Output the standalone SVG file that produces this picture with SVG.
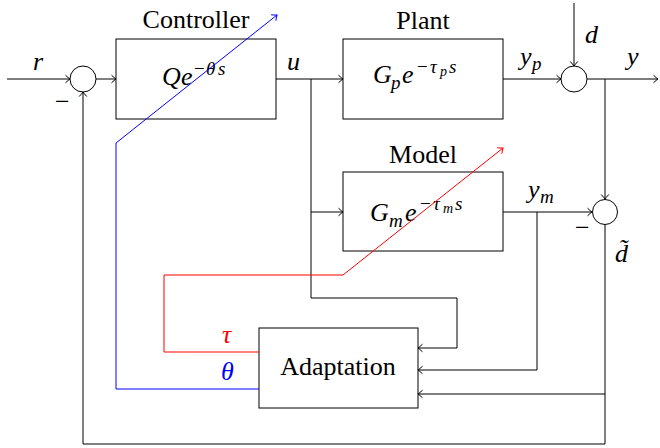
<svg xmlns="http://www.w3.org/2000/svg" width="660" height="448" viewBox="0 0 660 448">
<defs>
<style>
.box{fill:#fff;stroke:#000;stroke-width:1}
.sum{fill:#fff;stroke:#000;stroke-width:1}
.ln{fill:none;stroke:#000;stroke-width:1}
.blue{fill:none;stroke:#00f;stroke-width:1}
.red{fill:none;stroke:#f00;stroke-width:1}
.lbl{font-family:"Liberation Serif",serif;font-size:26px;fill:#000}
.m{font-family:"Liberation Serif",serif;font-style:italic;font-size:26px;fill:#000}
.s{font-size:19px}
.ss{font-size:14px}
.up{font-style:normal}
</style>
<marker id="ah" viewBox="-6 -5 8 10" refX="0" refY="0" markerWidth="8" markerHeight="10" markerUnits="userSpaceOnUse" orient="auto">
<path d="M-4.5,-3.8 Q-1.5,-1 0,0 Q-1.5,1 -4.5,3.8" fill="none" stroke="#000" stroke-width="1"/>
</marker>
<marker id="ahb" viewBox="-6 -5 8 10" refX="0" refY="0" markerWidth="8" markerHeight="10" markerUnits="userSpaceOnUse" orient="auto">
<path d="M-4.5,-3.8 Q-1.5,-1 0,0 Q-1.5,1 -4.5,3.8" fill="none" stroke="#00f" stroke-width="1"/>
</marker>
<marker id="ahr" viewBox="-6 -5 8 10" refX="0" refY="0" markerWidth="8" markerHeight="10" markerUnits="userSpaceOnUse" orient="auto">
<path d="M-4.5,-3.8 Q-1.5,-1 0,0 Q-1.5,1 -4.5,3.8" fill="none" stroke="#f00" stroke-width="1"/>
</marker>
</defs>
<rect width="660" height="448" fill="#fff"/>

<g id="connectors">
<path class="ln" d="M7,79 H70" marker-end="url(#ah)"/>
<path class="ln" d="M96,79 H116" marker-end="url(#ah)"/>
<path class="ln" d="M276,79 H343" marker-end="url(#ah)"/>
<path class="ln" d="M503,79 H561" marker-end="url(#ah)"/>
<path class="ln" d="M574,3 V66" marker-end="url(#ah)"/>
<path class="ln" d="M587,79 H658" marker-end="url(#ah)"/>
<path class="ln" d="M605,79 V199" marker-end="url(#ah)"/>
<path class="ln" d="M311,79 V212 H343" marker-end="url(#ah)"/>
<path class="ln" d="M503,212 H592" marker-end="url(#ah)"/>
<path class="ln" d="M311,212 V298 H457 V348 H418" marker-end="url(#ah)"/>
<path class="ln" d="M537,212 V370 H418" marker-end="url(#ah)"/>
<path class="ln" d="M605,224 V394 H418" marker-end="url(#ah)"/>
<path class="ln" d="M605,394 V444 H83 V92" marker-end="url(#ah)"/>
</g>

<g id="sum1"><circle class="sum" cx="83" cy="79" r="13"/></g>
<g id="sum2"><circle class="sum" cx="574" cy="79" r="13"/></g>
<g id="sum3"><circle class="sum" cx="605" cy="212" r="12.5"/></g>

<g id="controller">
<rect class="box" x="116" y="39" width="160" height="80"/>
<text class="lbl" x="196" y="28" text-anchor="middle">Controller</text>
<text class="m" y="85"><tspan x="162">Q</tspan><tspan x="181">e</tspan><tspan class="s up" x="194" y="75">−</tspan><tspan class="s" x="206">θ</tspan><tspan class="s" x="218">s</tspan></text>
</g>

<g id="plant">
<rect class="box" x="343" y="39" width="160" height="80"/>
<text class="lbl" x="423" y="29" text-anchor="middle">Plant</text>
<text class="m" y="83"><tspan x="373">G</tspan><tspan class="s" x="391" y="89">p</tspan><tspan x="402" y="83">e</tspan><tspan class="s up" x="417" y="73">−</tspan><tspan class="s" x="430">τ</tspan><tspan class="ss" x="440" y="76">p</tspan><tspan class="s" x="449" y="73">s</tspan></text>
</g>

<g id="model">
<rect class="box" x="343" y="172" width="160" height="79"/>
<text class="lbl" x="423" y="163" text-anchor="middle">Model</text>
<text class="m" y="221"><tspan x="370">G</tspan><tspan class="s" x="389" y="227">m</tspan><tspan x="405" y="221">e</tspan><tspan class="s up" x="420" y="210">−</tspan><tspan class="s" x="433">τ</tspan><tspan class="ss" x="443" y="213">m</tspan><tspan class="s" x="455" y="210">s</tspan></text>
</g>

<g id="adaptation">
<rect class="box" x="259" y="328" width="159" height="80"/>
<text class="lbl" x="338" y="375" text-anchor="middle">Adaptation</text>
</g>

<g id="adaptive-lines">
<path class="blue" d="M259,389 H116 V143 L277,15" marker-end="url(#ahb)"/>
<path class="red" d="M259,352 H164 V275 H343 L503,148" marker-end="url(#ahr)"/>
<text class="m" x="222" y="343" style="fill:#f00">τ</text>
<text class="m" x="221" y="380" style="fill:#00f">θ</text>
</g>

<g id="labels">
<text class="m" x="33" y="70">r</text>
<text class="m" x="287" y="70">u</text>
<text class="m" y="65"><tspan x="520">y</tspan><tspan class="s" x="532" y="70">p</tspan></text>
<text class="m" x="585" y="43">d</text>
<text class="m" x="627" y="65">y</text>
<text class="m" y="198"><tspan x="528">y</tspan><tspan class="s" x="540" y="203">m</tspan></text>
<text class="m up" x="55" y="110">−</text>
<text class="m up" x="575" y="236">−</text>
<text class="m" x="615" y="262">d̃</text>
</g>
</svg>
